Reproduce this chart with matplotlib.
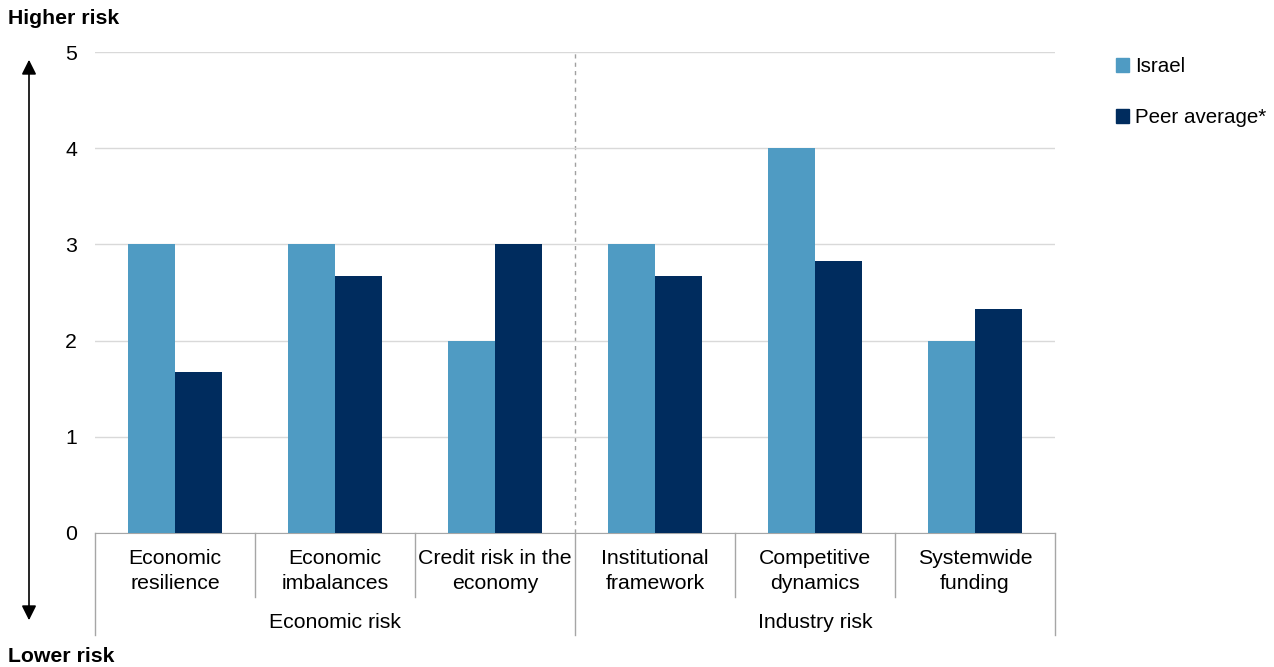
import numpy as np
import matplotlib.pyplot as plt
from matplotlib.patches import Patch

plt.rcParams['font.family'] = ['Liberation Sans', 'DejaVu Sans']

# data
categories = ['Economic\nresilience', 'Economic\nimbalances', 'Credit risk in the\neconomy',
              'Institutional\nframework', 'Competitive\ndynamics', 'Systemwide\nfunding']
groups = ['Economic risk', 'Industry risk']
israel = [3, 3, 2, 3, 4, 2]
peer = [1.67, 2.67, 3, 2.67, 2.83, 2.33]

c_israel = '#4F9BC3'
c_peer = '#002C5E'
grid_c = '#D9D9D9'
line_c = '#A6A6A6'
fs = 15.3

fig = plt.figure(figsize=(12.74, 6.67), dpi=100)
ax = fig.add_axes([95 / 1274, 1 - 533 / 667, 960 / 1274, 481 / 667])

x = np.arange(len(categories))
w = 0.292
ax.bar(x - w / 2, israel, w, color=c_israel, zorder=3)
ax.bar(x + w / 2, peer, w, color=c_peer, zorder=3)

ax.set_xlim(-0.5, 5.5)
ax.set_ylim(0, 5)
ax.set_yticks(range(6))
ax.set_yticklabels([str(i) for i in range(6)], fontsize=fs)
ax.tick_params(axis='y', length=0, pad=13)
ax.tick_params(axis='x', length=0, labelbottom=False)
ax.yaxis.grid(True, color=grid_c, lw=1, zorder=0)
for s in ['top', 'right', 'left']:
    ax.spines[s].set_visible(False)
ax.spines['bottom'].set_color(line_c)

# divider between economic and industry risk
ax.axvline(2.5, color='#A0A0A0', ls=(0, (3, 3)), lw=1, zorder=1)

# category labels and separators below the axis
tr = ax.get_xaxis_transform()
for i, lab in enumerate(categories):
    ax.text(i, -(571 - 533) / 481, lab, transform=tr, ha='center', va='center',
            fontsize=fs, linespacing=1.35)
for b in np.arange(-0.5, 6, 1):
    low = -0.212 if b in (-0.5, 2.5, 5.5) else -0.133
    ax.plot([b, b], [0, low], transform=tr, color=line_c, lw=1, clip_on=False)
for j, g in enumerate(groups):
    ax.text(1 + 3 * j, -(622 - 533) / 481, g, transform=tr, ha='center',
            va='center', fontsize=fs)

# risk arrow on the left
fig.text(8 / 1274, 1 - 19 / 667, 'Higher risk', fontsize=fs, fontweight='bold',
         ha='left', va='center')
fig.text(8 / 1274, 1 - 656 / 667, 'Lower risk', fontsize=fs, fontweight='bold',
         ha='left', va='center')
fig.add_artist(plt.Line2D([29 / 1274, 29 / 1274], [1 - 70 / 667, 1 - 610 / 667],
                          color='black', lw=1.2))
ax.annotate('', xy=(29 / 1274, 1 - 57 / 667), xytext=(29 / 1274, 1 - 75 / 667),
            xycoords='figure fraction',
            arrowprops=dict(arrowstyle='-|>', color='black', lw=1.2, mutation_scale=22))
ax.annotate('', xy=(29 / 1274, 1 - 623 / 667), xytext=(29 / 1274, 1 - 605 / 667),
            xycoords='figure fraction',
            arrowprops=dict(arrowstyle='-|>', color='black', lw=1.2, mutation_scale=22))

# legend
handles = [Patch(color=c_israel, label='Israel'), Patch(color=c_peer, label='Peer average*')]
fig.legend(handles=handles, loc='upper left', bbox_to_anchor=(1097 / 1274, 1 - 39 / 667),
           frameon=False, fontsize=14.8, handlelength=0.65, handleheight=0.65,
           handletextpad=0.3, labelspacing=1.55)

fig.savefig('out.png', dpi=100)
